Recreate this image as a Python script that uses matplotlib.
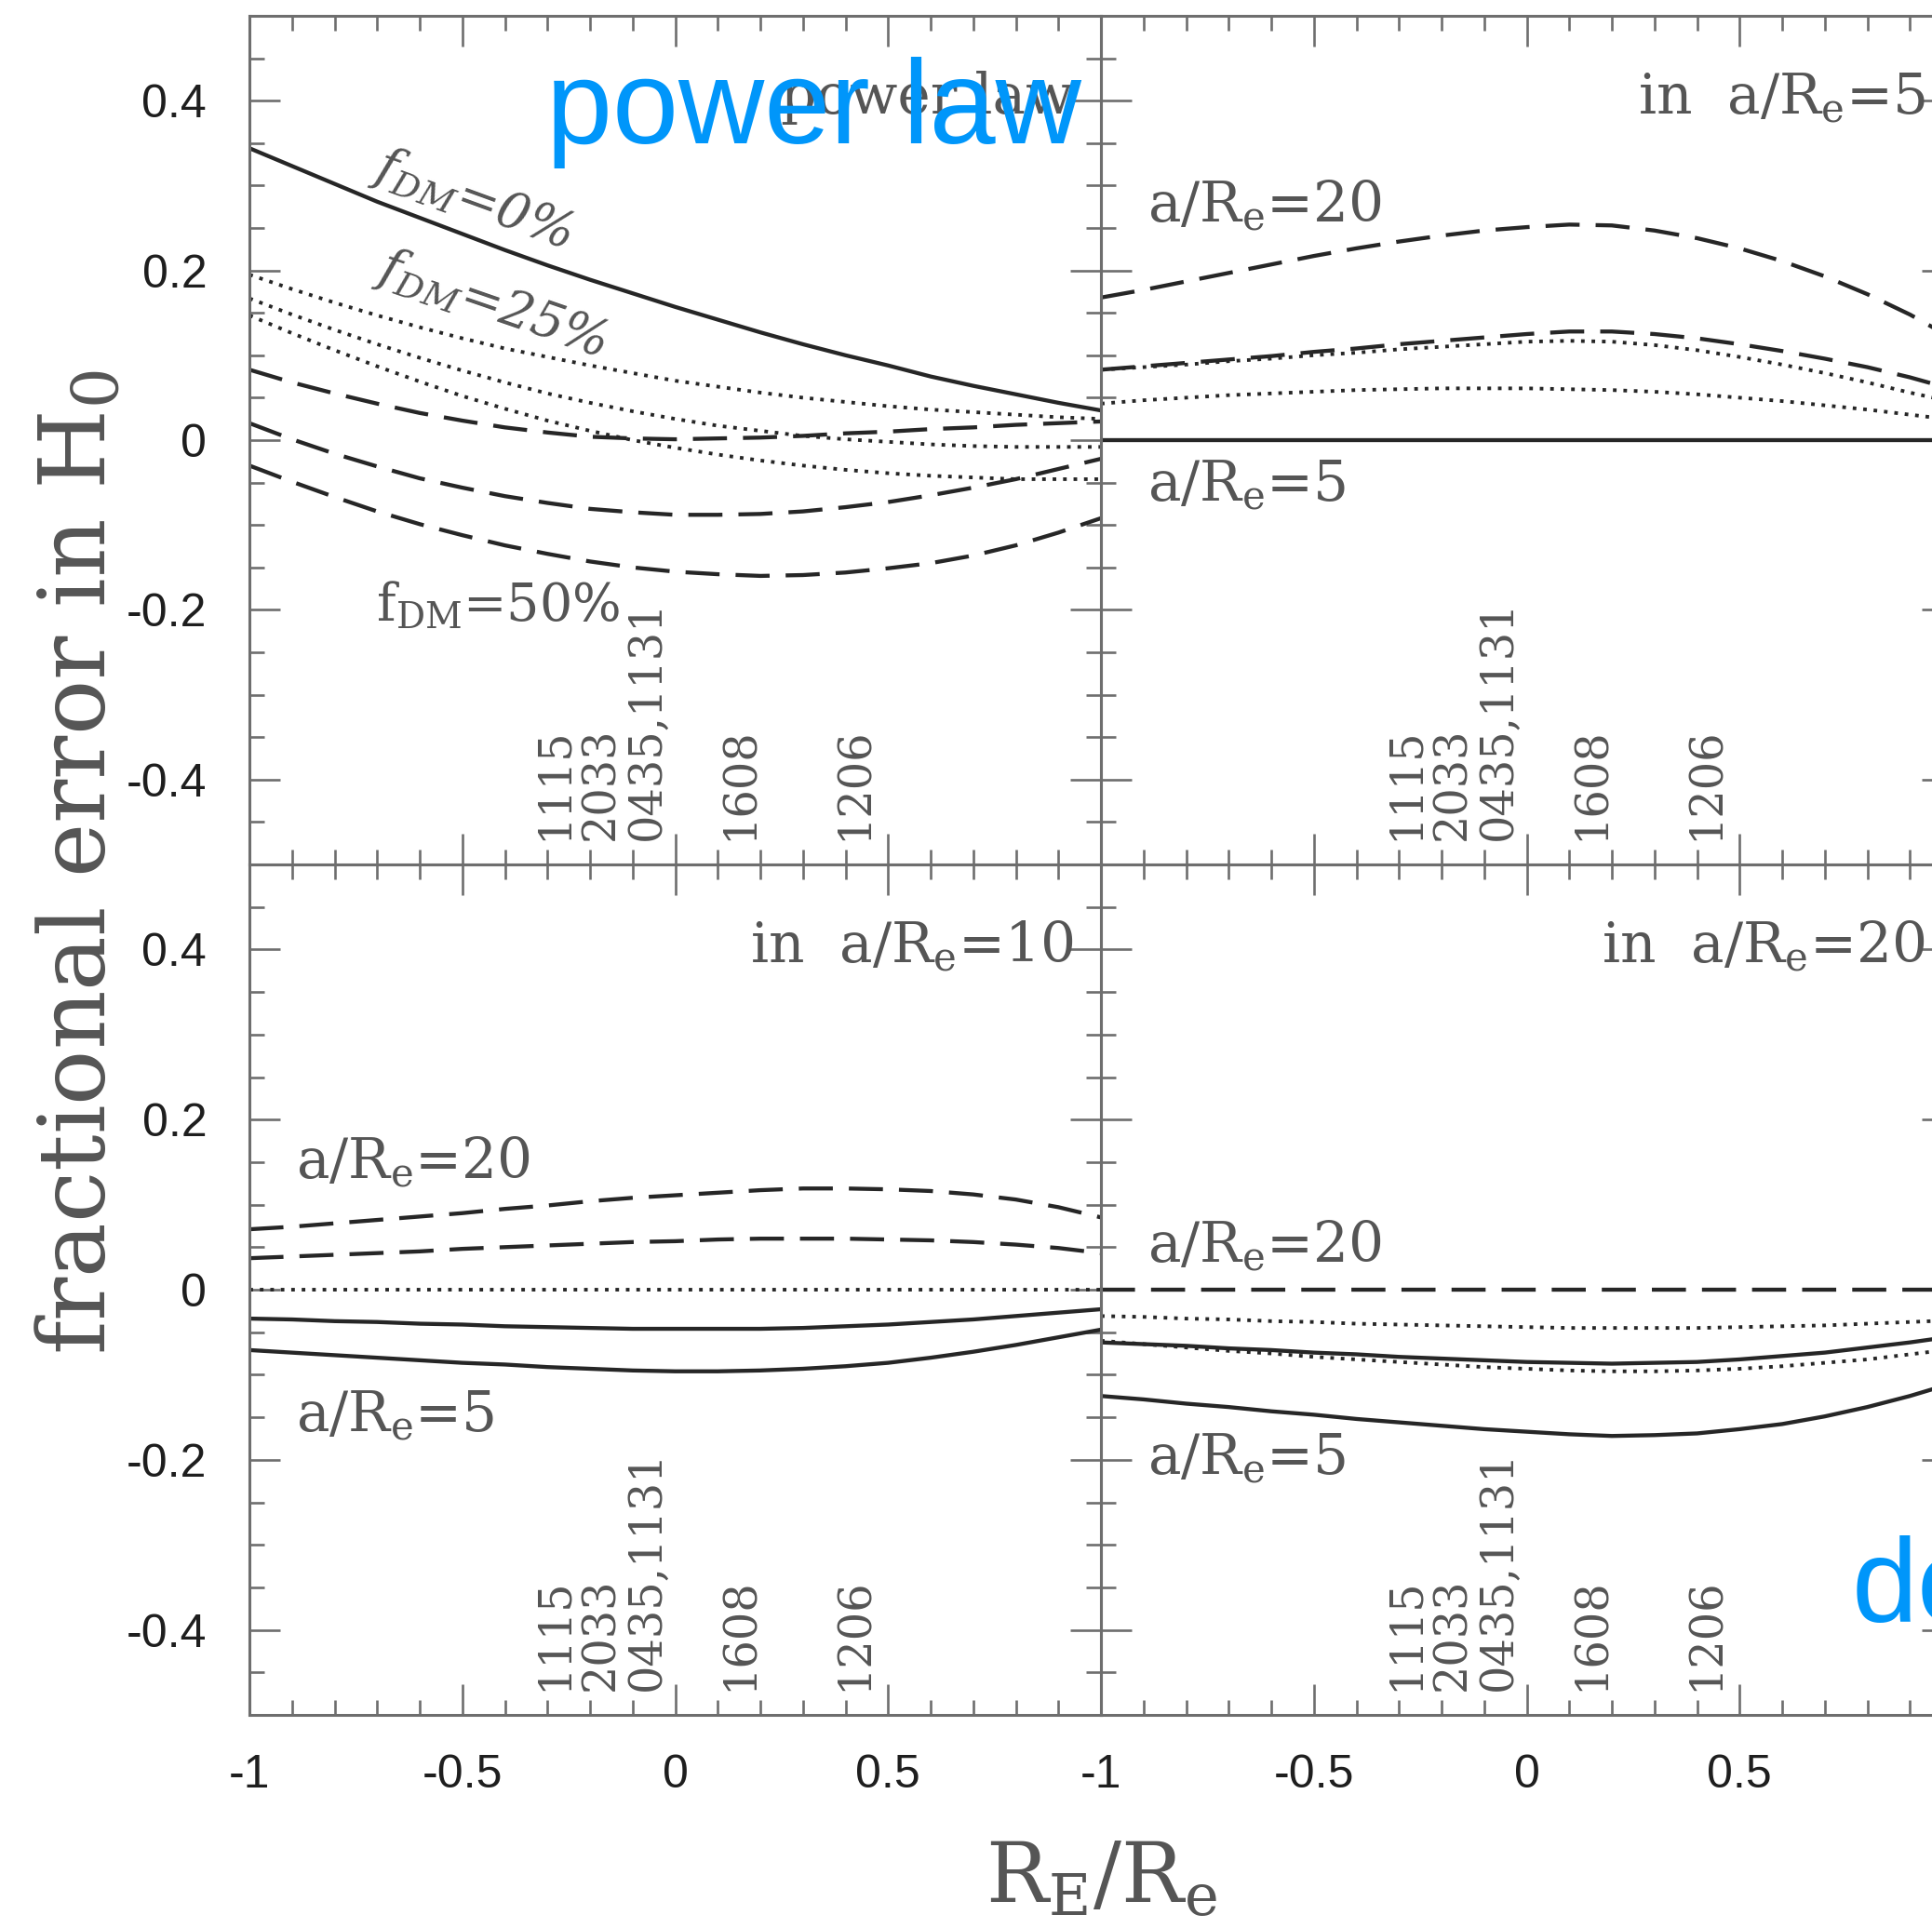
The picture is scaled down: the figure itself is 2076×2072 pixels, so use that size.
import matplotlib
matplotlib.use("Agg")
import matplotlib.pyplot as plt
from matplotlib.ticker import FixedLocator, FixedFormatter, MultipleLocator

plt.rcParams['mathtext.fontset'] = 'dejavuserif'
plt.rcParams['axes.unicode_minus'] = False

# ---------------- data ----------------
x = [-1.0, -0.9, -0.8, -0.7, -0.6, -0.5, -0.4, -0.3, -0.2, -0.1, 0.0,
     0.1, 0.2, 0.3, 0.4, 0.5, 0.6, 0.7, 0.8, 0.9, 1.0]

# power law panel (top left)
pl_solid = [0.344, 0.323, 0.302, 0.281, 0.262, 0.243, 0.224, 0.206, 0.189, 0.173, 0.157,
            0.142, 0.127, 0.113, 0.100, 0.088, 0.075, 0.064, 0.054, 0.044, 0.035]
pl_dot_1 = [0.195, 0.178, 0.162, 0.147, 0.133, 0.120, 0.108, 0.098, 0.088, 0.079, 0.070,
            0.063, 0.056, 0.050, 0.045, 0.040, 0.036, 0.033, 0.030, 0.027, 0.025]
pl_dot_2 = [0.167, 0.148, 0.130, 0.113, 0.097, 0.082, 0.068, 0.055, 0.044, 0.034, 0.025,
            0.017, 0.011, 0.005, 0.001, -0.002, -0.005, -0.007, -0.008, -0.008, -0.008]
pl_dot_3 = [0.147, 0.126, 0.106, 0.087, 0.069, 0.052, 0.037, 0.023, 0.011, 0.000, -0.009,
            -0.017, -0.024, -0.030, -0.035, -0.039, -0.042, -0.044, -0.046, -0.046, -0.046]
pl_dash_1 = [0.083, 0.068, 0.055, 0.043, 0.032, 0.023, 0.015, 0.009, 0.004, 0.002, 0.001,
             0.002, 0.003, 0.005, 0.008, 0.010, 0.013, 0.015, 0.018, 0.020, 0.022]
pl_dash_2 = [0.020, 0.001, -0.016, -0.031, -0.045, -0.056, -0.066, -0.074, -0.081, -0.085, -0.088,
             -0.088, -0.087, -0.084, -0.079, -0.073, -0.065, -0.056, -0.046, -0.034, -0.022]
pl_dash_3 = [-0.030, -0.049, -0.067, -0.084, -0.099, -0.112, -0.124, -0.134, -0.143, -0.150, -0.155,
             -0.158, -0.160, -0.159, -0.156, -0.151, -0.145, -0.136, -0.124, -0.109, -0.092]

# in a/Re=5 panel (top right)
a5_solid = [0.0] * 21
a5_dot_1 = [0.083, 0.086, 0.089, 0.093, 0.096, 0.100, 0.103, 0.107, 0.110, 0.113, 0.116,
            0.117, 0.116, 0.112, 0.106, 0.098, 0.089, 0.079, 0.068, 0.056, 0.045]
a5_dot_2 = [0.043, 0.047, 0.050, 0.053, 0.055, 0.057, 0.059, 0.060, 0.061, 0.061, 0.061,
            0.060, 0.059, 0.057, 0.054, 0.050, 0.046, 0.041, 0.036, 0.030, 0.024]
a5_dash_1 = [0.168, 0.177, 0.187, 0.197, 0.207, 0.217, 0.226, 0.234, 0.241, 0.247, 0.251,
             0.254, 0.253, 0.247, 0.238, 0.226, 0.211, 0.193, 0.172, 0.148, 0.120]
a5_dash_2 = [0.083, 0.087, 0.091, 0.095, 0.099, 0.104, 0.108, 0.113, 0.117, 0.121, 0.125,
             0.128, 0.128, 0.125, 0.120, 0.113, 0.105, 0.096, 0.086, 0.074, 0.060]

# in a/Re=10 panel (bottom left)
a10_dot = [0.0] * 21
a10_dash_1 = [0.071, 0.074, 0.078, 0.082, 0.086, 0.090, 0.095, 0.099, 0.104, 0.108, 0.111,
              0.114, 0.117, 0.119, 0.119, 0.118, 0.116, 0.112, 0.106, 0.097, 0.085]
a10_dash_2 = [0.037, 0.039, 0.041, 0.043, 0.045, 0.048, 0.050, 0.052, 0.054, 0.056, 0.057,
              0.059, 0.060, 0.060, 0.060, 0.059, 0.058, 0.056, 0.053, 0.049, 0.043]
a10_solid_1 = [-0.034, -0.035, -0.037, -0.038, -0.040, -0.041, -0.043, -0.044, -0.045, -0.046, -0.046,
               -0.046, -0.046, -0.045, -0.043, -0.041, -0.038, -0.035, -0.031, -0.027, -0.023]
a10_solid_2 = [-0.071, -0.074, -0.077, -0.080, -0.083, -0.086, -0.088, -0.091, -0.093, -0.095, -0.096,
               -0.096, -0.095, -0.093, -0.090, -0.086, -0.080, -0.073, -0.065, -0.056, -0.047]

# in a/Re=20 panel (bottom right)
a20_dash = [0.0] * 21
a20_dot_1 = [-0.031, -0.032, -0.034, -0.035, -0.037, -0.038, -0.040, -0.041, -0.042, -0.043, -0.044,
             -0.045, -0.045, -0.045, -0.045, -0.044, -0.043, -0.042, -0.040, -0.038, -0.036]
a20_dot_2 = [-0.060, -0.064, -0.068, -0.072, -0.075, -0.079, -0.082, -0.085, -0.088, -0.091, -0.093,
             -0.095, -0.096, -0.096, -0.095, -0.093, -0.090, -0.086, -0.082, -0.076, -0.070]
a20_solid_1 = [-0.062, -0.064, -0.066, -0.069, -0.071, -0.074, -0.076, -0.079, -0.081, -0.083, -0.085,
               -0.086, -0.087, -0.086, -0.085, -0.082, -0.078, -0.074, -0.068, -0.062, -0.055]
a20_solid_2 = [-0.125, -0.129, -0.134, -0.138, -0.143, -0.147, -0.152, -0.156, -0.160, -0.164, -0.167,
               -0.170, -0.172, -0.171, -0.169, -0.164, -0.158, -0.149, -0.138, -0.125, -0.110]

# lens systems marked along the x axis
lens_names = ["1115", "2033", "0435,1131", "1608", "1206"]
lens_x = [-0.285, -0.175, -0.065, 0.152, 0.421]

xtick_vals = [-1, -0.5, 0, 0.5, 1]
xtick_left = ["-1", "-0.5", "0", "0.5", ""]
xtick_right = ["-1", "-0.5", "0", "0.5", ""]
ytick_vals = [-0.4, -0.2, 0, 0.2, 0.4]
ytick_labels = ["-0.4", "-0.2", "0", "0.2", "0.4"]

# ---------------- styling ----------------
W, H = 2076, 2072
fig = plt.figure(figsize=(W / 100, H / 100), dpi=100)

AX_COL = "#6e6e6e"
LINE_COL = "#262626"
TXT_COL = "#555555"
SERIF = "DejaVu Serif"
SANS = "Liberation Sans"
LW = 3.1
DASH = (0, (8.5, 4.0))
DOT = (0, (1.0, 1.9))

x0, xm = 268 / W, 1183 / W
y_top, y_mid, y_bot = 1 - 17 / H, 1 - 929 / H, 1 - 1843 / H
pw = xm - x0
ph_top = y_top - y_mid
ph_bot = y_mid - y_bot

ax_tl = fig.add_axes([x0, y_mid, pw, ph_top])
ax_tr = fig.add_axes([xm, y_mid, pw, ph_top])
ax_bl = fig.add_axes([x0, y_bot, pw, ph_bot])
ax_br = fig.add_axes([xm, y_bot, pw, ph_bot])


def setup(ax, xlabels, ylabels):
    ax.set_xlim(-1, 1)
    ax.set_ylim(-0.5, 0.5)
    ax.xaxis.set_major_locator(FixedLocator(xtick_vals))
    ax.xaxis.set_minor_locator(MultipleLocator(0.1))
    ax.yaxis.set_major_locator(FixedLocator(ytick_vals))
    ax.yaxis.set_minor_locator(MultipleLocator(0.05))
    ax.xaxis.set_major_formatter(FixedFormatter(xlabels if xlabels else [""] * 5))
    ax.yaxis.set_major_formatter(FixedFormatter(ylabels if ylabels else [""] * 5))
    ax.tick_params(which="both", direction="in", top=True, right=True,
                   color=AX_COL, width=1.9)
    ax.tick_params(which="major", length=23.5)
    ax.tick_params(which="minor", length=11.5)
    ax.tick_params(axis="x", which="major", pad=30, labelsize=36, labelcolor="#1e1e1e")
    ax.tick_params(axis="y", which="major", pad=33, labelsize=36, labelcolor="#1e1e1e")
    for lab in ax.get_xticklabels() + ax.get_yticklabels():
        lab.set_family(SANS)
    for s in ax.spines.values():
        s.set_color(AX_COL)
        s.set_linewidth(2.2)
    ax.patch.set_alpha(0)
    for name, lx in zip(lens_names, lens_x):
        ax.text(lx, -0.472, name, rotation=90, ha="center", va="bottom",
                fontsize=34.5, family=SERIF, color=TXT_COL)


setup(ax_tl, None, ytick_labels)
setup(ax_tr, None, None)
setup(ax_bl, xtick_left, ytick_labels)
setup(ax_br, xtick_right, None)

# ---------------- curves ----------------
def solid(ax, y):
    ax.plot(x, y, color=LINE_COL, lw=LW, ls="-", solid_capstyle="butt")

def dashed(ax, y):
    ax.plot(x, y, color=LINE_COL, lw=LW, ls=DASH)

def dotted(ax, y):
    ax.plot(x, y, color=LINE_COL, lw=LW * 0.9, ls=DOT)

solid(ax_tl, pl_solid)
for yy in (pl_dot_1, pl_dot_2, pl_dot_3):
    dotted(ax_tl, yy)
for yy in (pl_dash_1, pl_dash_2, pl_dash_3):
    dashed(ax_tl, yy)

solid(ax_tr, a5_solid)
for yy in (a5_dot_1, a5_dot_2):
    dotted(ax_tr, yy)
for yy in (a5_dash_1, a5_dash_2):
    dashed(ax_tr, yy)

dotted(ax_bl, a10_dot)
for yy in (a10_dash_1, a10_dash_2):
    dashed(ax_bl, yy)
for yy in (a10_solid_1, a10_solid_2):
    solid(ax_bl, yy)

dashed(ax_br, a20_dash)
for yy in (a20_dot_1, a20_dot_2):
    dotted(ax_br, yy)
for yy in (a20_solid_1, a20_solid_2):
    solid(ax_br, yy)

# ---------------- in-panel text ----------------
LBL = 43
def lab(ax, xx, yy, s, ha="left", va="baseline", **kw):
    ax.text(xx, yy, s, ha=ha, va=va, fontsize=kw.pop("fontsize", LBL),
            family=SERIF, color=TXT_COL, **kw)

lab(ax_tl, 0.935, 0.385, "power law", ha="right")
lab(ax_tl, -0.476, 0.284, r"f$_{\mathit{DM}}$=0%", ha="center", va="center",
    rotation=-20, style="italic", fontsize=39)
lab(ax_tl, -0.432, 0.160, r"f$_{\mathit{DM}}$=25%", ha="center", va="center",
    rotation=-19, style="italic", fontsize=39)
lab(ax_tl, -0.703, -0.213, r"f$_{\rm DM}$=50%", fontsize=40)

lab(ax_tr, 0.935, 0.385, r"in  a/R$_{\rm e}$=5", ha="right")
lab(ax_tr, -0.891, 0.257, r"a/R$_{\rm e}$=20")
lab(ax_tr, -0.891, -0.072, r"a/R$_{\rm e}$=5")

lab(ax_bl, 0.935, 0.385, r"in  a/R$_{\rm e}$=10", ha="right")
lab(ax_bl, -0.891, 0.131, r"a/R$_{\rm e}$=20")
lab(ax_bl, -0.891, -0.167, r"a/R$_{\rm e}$=5")

lab(ax_br, 0.935, 0.385, r"in  a/R$_{\rm e}$=20", ha="right")
lab(ax_br, -0.891, 0.033, r"a/R$_{\rm e}$=20")
lab(ax_br, -0.891, -0.217, r"a/R$_{\rm e}$=5")

# ---------------- axis titles ----------------
fig.text(86 / W, 1 - 927 / H, r"fractional error in H$_0$", rotation=90,
         ha="center", va="center", fontsize=71, family=SERIF, color=TXT_COL)
fig.text(1183 / W, 1 - 2045 / H, r"R$_{\rm E}$/R$_{\rm e}$", ha="center",
         va="baseline", fontsize=64, family=SERIF, color=TXT_COL)

# ---------------- blue overlay annotations ----------------
BLUE = "#0096fa"
fig.text(587 / W, 1 - 154 / H, "power law", ha="left", va="baseline",
         fontsize=92, family=SANS, color=BLUE, zorder=10)
fig.text(1990 / W, 1 - 1743 / H, "de", ha="left", va="baseline",
         fontsize=92, family=SANS, color=BLUE, zorder=10)

fig.savefig("out.png", dpi=100)
